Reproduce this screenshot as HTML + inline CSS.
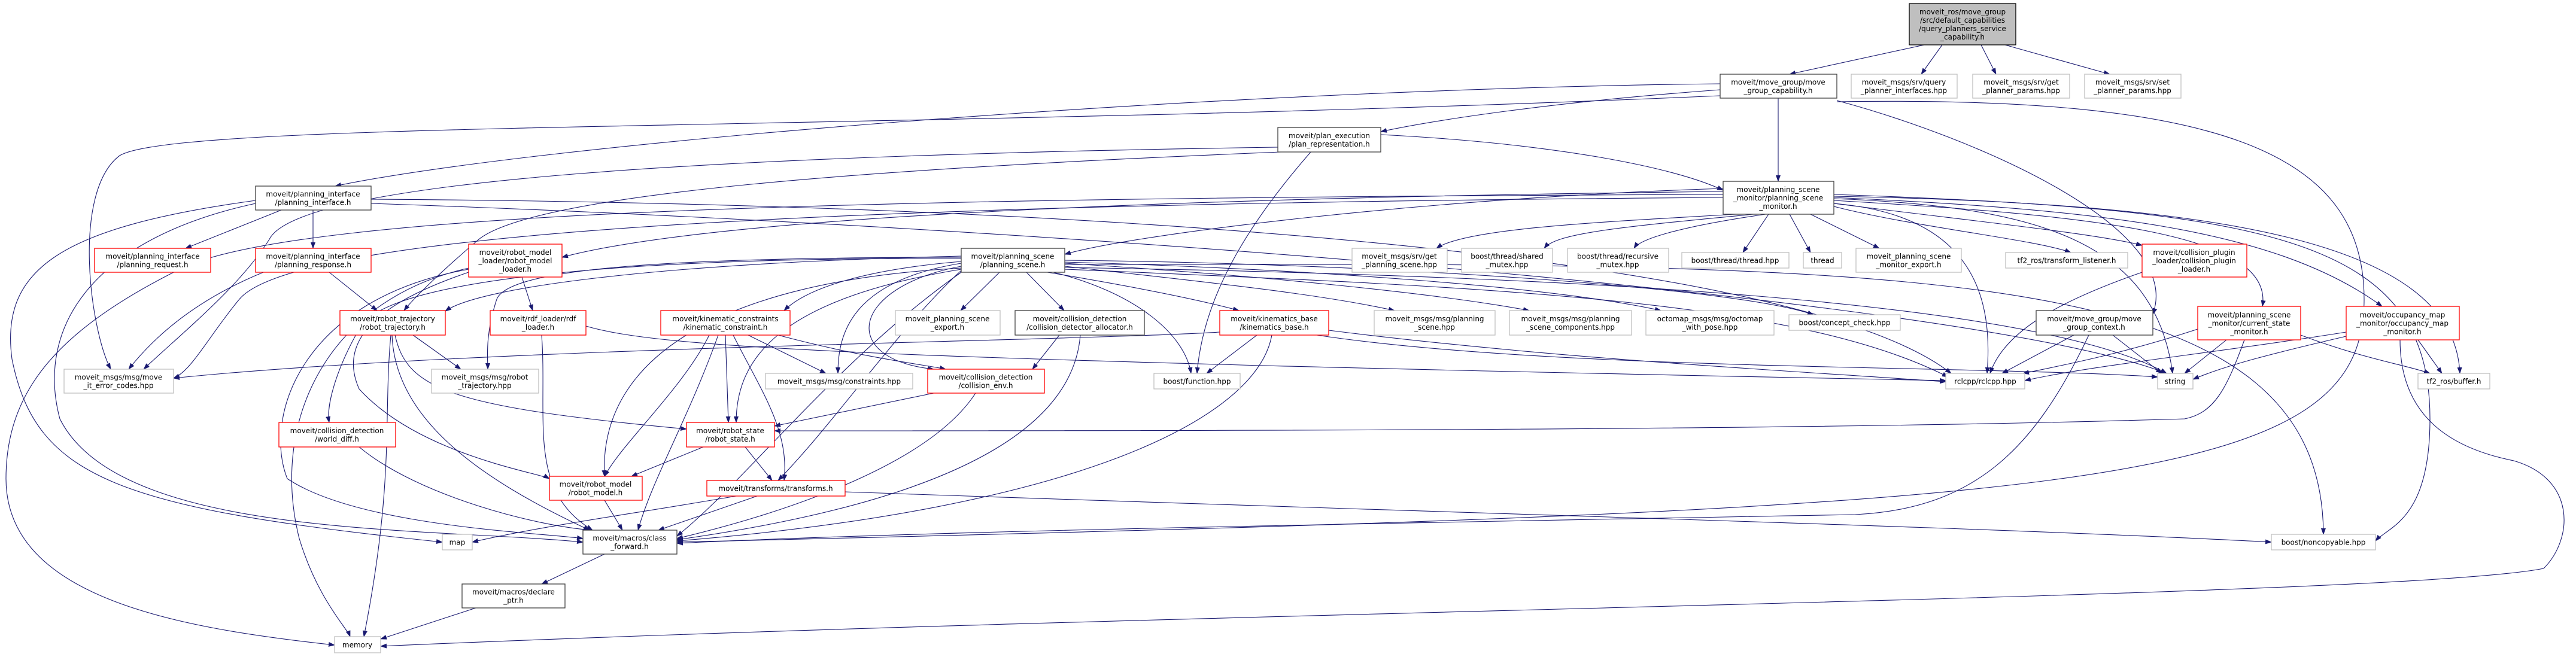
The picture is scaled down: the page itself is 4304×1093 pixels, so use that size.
<!DOCTYPE html>
<html><head><meta charset="utf-8"><style>
html,body{margin:0;padding:0;background:#fff;}
svg{display:block;}
text{font-family:"DejaVu Sans","Liberation Sans",sans-serif;font-size:12px;fill:#000;}
.e{fill:none;stroke:#191970;stroke-width:1.1;marker-end:url(#ah);}
.k{fill:#fff;stroke:#404040;stroke-width:1.3;}
.g{fill:#fff;stroke:#bfbfbf;stroke-width:1.3;}
.r{fill:#fff;stroke:#ff0000;stroke-width:1.3;}
</style></head><body>
<svg width="4304" height="1093" viewBox="0 0 4304 1093" xmlns="http://www.w3.org/2000/svg">
<defs><marker id="ah" markerWidth="11" markerHeight="8" refX="10" refY="4" orient="auto" markerUnits="userSpaceOnUse"><path d="M0,0 L11,4 L0,8 z" fill="#191970"/></marker></defs>
<g>
<path class="e" d="M3215 75 L2990 124"/>
<path class="e" d="M3245 75 L3210 124"/>
<path class="e" d="M3310 75 L3335 124"/>
<path class="e" d="M3350 75 L3525 124"/>
<path class="e" d="M2874 150 C2600 170,2400 200,2307 220"/>
<path class="e" d="M2874 140 C2000 150,900 240,560 311"/>
<path class="e" d="M2971 164 L2971 303"/>
<path class="e" d="M3069 168 C3300 230,3650 380,3597 525"/>
<path class="e" d="M3069 170 C3700 160,3950 250,3950 500 C3950 820,3500 850,1131 906"/>
<path class="e" d="M2874 160 C1500 220,300 200,200 260 C120 320,150 550,185 617"/>
<path class="e" d="M2307 225 C2600 240,2800 280,2879 318"/>
<path class="e" d="M2140 254 C1500 280,900 320,800 400 C730 460,690 500,675 519"/>
<path class="e" d="M2190 254 C2080 380,2010 500,2000 624"/>
<path class="e" d="M2135 246 C1200 260,500 300,450 400 C400 480,300 560,240 617"/>
<path class="e" d="M470 351 L310 415"/>
<path class="e" d="M523 351 L523 415"/>
<path class="e" d="M427 335 C100 380,0 450,20 600 C60 800,200 850,739 906"/>
<path class="e" d="M427 340 C150 400,60 550,100 700 C200 900,700 880,974 906"/>
<path class="e" d="M620 333 C1800 340,3000 420,3260 624"/>
<path class="e" d="M620 340 C1800 380,3300 500,3620 624"/>
<path class="e" d="M2879 320 C2000 330,1200 360,939 430"/>
<path class="e" d="M2879 315 C2400 330,1900 390,1779 425"/>
<path class="e" d="M2900 358 C2700 370,2450 380,2400 415"/>
<path class="e" d="M2930 358 C2700 380,2600 390,2580 415"/>
<path class="e" d="M2950 358 C2800 380,2740 400,2730 415"/>
<path class="e" d="M2955 358 L2912 422"/>
<path class="e" d="M2990 358 L3025 422"/>
<path class="e" d="M3025 358 L3140 415"/>
<path class="e" d="M3064 345 C3200 380,3400 400,3460 422"/>
<path class="e" d="M3064 340 C3300 370,3500 390,3579 410"/>
<path class="e" d="M3064 335 C3500 360,3800 390,3780 512"/>
<path class="e" d="M3064 330 C3500 350,3800 380,3980 512"/>
<path class="e" d="M3064 340 C3300 360,3330 500,3320 624"/>
<path class="e" d="M3064 332 C3400 345,3600 400,3630 624"/>
<path class="e" d="M3064 328 C3700 340,4100 400,4110 624"/>
<path class="e" d="M3064 325 C3800 350,4060 400,4060 700 C4060 870,3990 880,3969 904"/>
<path class="e" d="M2879 325 C1500 330,500 350,300 450 C100 550,10 650,10 800 C10 1000,300 1050,559 1078"/>
<path class="e" d="M2879 330 C1500 340,500 380,400 500 C350 560,320 620,290 632"/>
<path class="e" d="M1670 455 L1605 519"/>
<path class="e" d="M1715 455 L1778 519"/>
<path class="e" d="M1750 455 C1900 480,2000 500,2070 519"/>
<path class="e" d="M1779 445 C2000 470,2200 490,2330 519"/>
<path class="e" d="M1779 440 C2100 460,2400 490,2555 519"/>
<path class="e" d="M1779 438 C2200 450,2600 480,2775 519"/>
<path class="e" d="M1779 435 C2300 440,2900 480,3030 526"/>
<path class="e" d="M1760 455 C1900 490,1980 560,1990 624"/>
<path class="e" d="M1606 445 C1420 480,1400 600,1560 617"/>
<path class="e" d="M1606 440 C1420 470,1400 560,1400 624"/>
<path class="e" d="M1606 450 C1300 500,1230 600,1230 706"/>
<path class="e" d="M1606 448 C1200 470,1000 600,1010 796"/>
<path class="e" d="M1606 452 C1500 550,1400 700,1300 803"/>
<path class="e" d="M1606 455 C1400 600,1250 800,1131 896"/>
<path class="e" d="M1606 437 C1450 450,1350 480,1310 519"/>
<path class="e" d="M1606 432 C1200 430,650 450,600 550 C560 620,545 680,550 706"/>
<path class="e" d="M1606 430 C1100 430,850 450,830 500 C810 560,815 600,815 617"/>
<path class="e" d="M1779 450 C2500 480,3000 500,3255 630"/>
<path class="e" d="M1779 447 C2600 460,3400 500,3620 624"/>
<path class="e" d="M1779 442 C3200 440,3880 430,3882 893"/>
<path class="e" d="M1606 428 C1100 440,800 480,744 520"/>
<path class="e" d="M872 463 L890 519"/>
<path class="e" d="M783 455 C650 500,560 560,600 650 C700 760,900 790,918 800"/>
<path class="e" d="M783 450 C500 500,440 700,480 800 C600 880,900 890,974 900"/>
<path class="e" d="M783 448 C550 500,450 700,500 900 C530 1000,580 1050,585 1064"/>
<path class="e" d="M690 560 L770 617"/>
<path class="e" d="M660 560 C680 650,750 680,1147 717"/>
<path class="e" d="M655 560 C660 700,800 800,985 886"/>
<path class="e" d="M653 560 C640 700,660 800,608 1064"/>
<path class="e" d="M550 455 L630 519"/>
<path class="e" d="M440 455 C330 500,260 560,215 617"/>
<path class="e" d="M905 560 C915 700,880 820,990 886"/>
<path class="e" d="M979 545 C1100 580,1400 600,3251 636"/>
<path class="e" d="M1250 560 L1380 624"/>
<path class="e" d="M1212 560 L1217 706"/>
<path class="e" d="M1185 560 C1140 650,1040 740,1010 796"/>
<path class="e" d="M1225 560 C1270 650,1320 720,1310 803"/>
<path class="e" d="M1200 560 C1150 700,1090 800,1066 886"/>
<path class="e" d="M1300 560 C1450 600,1550 610,1580 617"/>
<path class="e" d="M1770 560 L1725 617"/>
<path class="e" d="M1805 560 C1790 750,1500 850,1131 902"/>
<path class="e" d="M2100 560 L2016 624"/>
<path class="e" d="M2125 560 C2100 700,1800 850,1131 904"/>
<path class="e" d="M2220 552 C2600 600,3000 620,3251 638"/>
<path class="e" d="M2200 560 C2600 620,3300 610,3605 630"/>
<path class="e" d="M2038 555 C1800 570,800 580,290 632"/>
<path class="e" d="M3465 560 L3345 624"/>
<path class="e" d="M3530 560 L3612 624"/>
<path class="e" d="M3490 560 C3400 750,3300 850,3100 860 C2000 880,1500 890,1131 908"/>
<path class="e" d="M3672 550 C3550 590,3450 610,3380 624"/>
<path class="e" d="M3720 568 L3650 624"/>
<path class="e" d="M3844 560 C3950 600,4020 610,4060 624"/>
<path class="e" d="M3750 568 C3720 650,3700 690,3650 700 C3000 720,2000 720,1294 720"/>
<path class="e" d="M3920 555 C3700 590,3500 610,3383 636"/>
<path class="e" d="M3920 562 C3800 590,3720 610,3664 634"/>
<path class="e" d="M4040 568 L4080 624"/>
<path class="e" d="M4010 568 C4010 700,4100 750,4200 770 C4304 800,4300 900,4250 950 C4000 1000,2000 1020,636 1080"/>
<path class="e" d="M3579 455 C3450 500,3350 550,3325 624"/>
<path class="e" d="M1560 657 C1450 680,1350 700,1294 712"/>
<path class="e" d="M1630 657 C1550 780,1300 860,1131 900"/>
<path class="e" d="M600 747 C700 830,900 880,990 886"/>
<path class="e" d="M1175 747 L1055 796"/>
<path class="e" d="M1245 747 L1290 803"/>
<path class="e" d="M1010 836 L1040 886"/>
<path class="e" d="M1230 829 C1050 860,900 880,789 906"/>
<path class="e" d="M1265 829 L1100 886"/>
<path class="e" d="M1412 822 C2500 860,3300 880,3795 906"/>
<path class="e" d="M1010 926 L905 976"/>
<path class="e" d="M795 1016 L636 1068"/>
</g>
<g text-anchor="middle">
<rect x="3190" y="6" width="178" height="69" fill="#bfbfbf" stroke="#000" stroke-width="1.3"/>
<text x="3279" y="24"><tspan x="3279">moveit_ros/move_group</tspan><tspan x="3279" dy="14">/src/default_capabilities</tspan><tspan x="3279" dy="14">/query_planners_service</tspan><tspan x="3279" dy="14">_capability.h</tspan></text>

<rect class="k" x="2874" y="124" width="195" height="40"/><text y="141.5"><tspan x="2971">moveit/move_group/move</tspan><tspan x="2971" dy="14">_group_capability.h</tspan></text>
<rect class="g" x="3093" y="124" width="177" height="40"/><text y="141.5"><tspan x="3181">moveit_msgs/srv/query</tspan><tspan x="3181" dy="14">_planner_interfaces.hpp</tspan></text>
<rect class="g" x="3296" y="124" width="162" height="40"/><text y="141.5"><tspan x="3377">moveit_msgs/srv/get</tspan><tspan x="3377" dy="14">_planner_params.hpp</tspan></text>
<rect class="g" x="3483" y="124" width="161" height="40"/><text y="141.5"><tspan x="3563">moveit_msgs/srv/set</tspan><tspan x="3563" dy="14">_planner_params.hpp</tspan></text>

<rect class="k" x="2135" y="213" width="172" height="41"/><text y="231"><tspan x="2221">moveit/plan_execution</tspan><tspan x="2221" dy="14">/plan_representation.h</tspan></text>
<rect class="k" x="427" y="311" width="193" height="40"/><text y="328.5"><tspan x="523">moveit/planning_interface</tspan><tspan x="523" dy="14">/planning_interface.h</tspan></text>
<rect class="k" x="2879" y="303" width="185" height="55"/><text y="321"><tspan x="2971">moveit/planning_scene</tspan><tspan x="2971" dy="14">_monitor/planning_scene</tspan><tspan x="2971" dy="14">_monitor.h</tspan></text>

<rect class="r" x="158" y="415" width="194" height="40"/><text y="432.5"><tspan x="255">moveit/planning_interface</tspan><tspan x="255" dy="14">/planning_request.h</tspan></text>
<rect class="r" x="427" y="415" width="193" height="40"/><text y="432.5"><tspan x="523">moveit/planning_interface</tspan><tspan x="523" dy="14">/planning_response.h</tspan></text>
<rect class="r" x="783" y="408" width="156" height="55"/><text y="426"><tspan x="861">moveit/robot_model</tspan><tspan x="861" dy="14">_loader/robot_model</tspan><tspan x="861" dy="14">_loader.h</tspan></text>
<rect class="k" x="1606" y="415" width="173" height="40"/><text y="432.5"><tspan x="1692">moveit/planning_scene</tspan><tspan x="1692" dy="14">/planning_scene.h</tspan></text>
<rect class="g" x="2259" y="415" width="159" height="40"/><text y="432.5"><tspan x="2338">moveit_msgs/srv/get</tspan><tspan x="2338" dy="14">_planning_scene.hpp</tspan></text>
<rect class="g" x="2442" y="415" width="152" height="40"/><text y="432.5"><tspan x="2518">boost/thread/shared</tspan><tspan x="2518" dy="14">_mutex.hpp</tspan></text>
<rect class="g" x="2619" y="415" width="169" height="40"/><text y="432.5"><tspan x="2703">boost/thread/recursive</tspan><tspan x="2703" dy="14">_mutex.hpp</tspan></text>
<rect class="g" x="2810" y="422" width="179" height="26"/><text x="2899" y="439.5">boost/thread/thread.hpp</text>
<rect class="g" x="3013" y="422" width="64" height="26"/><text x="3045" y="439.5">thread</text>
<rect class="g" x="3101" y="415" width="176" height="40"/><text y="432.5"><tspan x="3189">moveit_planning_scene</tspan><tspan x="3189" dy="14">_monitor_export.h</tspan></text>
<rect class="g" x="3351" y="422" width="204" height="26"/><text x="3453" y="439.5">tf2_ros/transform_listener.h</text>
<rect class="r" x="3579" y="408" width="175" height="55"/><text y="426"><tspan x="3666">moveit/collision_plugin</tspan><tspan x="3666" dy="14">_loader/collision_plugin</tspan><tspan x="3666" dy="14">_loader.h</tspan></text>

<rect class="r" x="568" y="519" width="176" height="41"/><text y="537"><tspan x="656">moveit/robot_trajectory</tspan><tspan x="656" dy="14">/robot_trajectory.h</tspan></text>
<rect class="r" x="819" y="519" width="160" height="41"/><text y="537"><tspan x="899">moveit/rdf_loader/rdf</tspan><tspan x="899" dy="14">_loader.h</tspan></text>
<rect class="r" x="1104" y="519" width="216" height="41"/><text y="537"><tspan x="1212">moveit/kinematic_constraints</tspan><tspan x="1212" dy="14">/kinematic_constraint.h</tspan></text>
<rect class="g" x="1496" y="519" width="175" height="41"/><text y="537"><tspan x="1583">moveit_planning_scene</tspan><tspan x="1583" dy="14">_export.h</tspan></text>
<rect class="k" x="1696" y="519" width="216" height="41"/><text y="537"><tspan x="1804">moveit/collision_detection</tspan><tspan x="1804" dy="14">/collision_detector_allocator.h</tspan></text>
<rect class="r" x="2038" y="519" width="182" height="41"/><text y="537"><tspan x="2129">moveit/kinematics_base</tspan><tspan x="2129" dy="14">/kinematics_base.h</tspan></text>
<rect class="g" x="2296" y="519" width="202" height="41"/><text y="537"><tspan x="2397">moveit_msgs/msg/planning</tspan><tspan x="2397" dy="14">_scene.hpp</tspan></text>
<rect class="g" x="2522" y="519" width="204" height="41"/><text y="537"><tspan x="2624">moveit_msgs/msg/planning</tspan><tspan x="2624" dy="14">_scene_components.hpp</tspan></text>
<rect class="g" x="2750" y="519" width="214" height="41"/><text y="537"><tspan x="2857">octomap_msgs/msg/octomap</tspan><tspan x="2857" dy="14">_with_pose.hpp</tspan></text>
<rect class="g" x="2989" y="526" width="186" height="26"/><text x="3082" y="543.5">boost/concept_check.hpp</text>
<rect class="k" x="3402" y="519" width="195" height="41"/><text y="537"><tspan x="3499">moveit/move_group/move</tspan><tspan x="3499" dy="14">_group_context.h</tspan></text>
<rect class="r" x="3672" y="512" width="172" height="56"/><text y="530.5"><tspan x="3758">moveit/planning_scene</tspan><tspan x="3758" dy="14">_monitor/current_state</tspan><tspan x="3758" dy="14">_monitor.h</tspan></text>
<rect class="r" x="3920" y="512" width="189" height="56"/><text y="530.5"><tspan x="4014">moveit/occupancy_map</tspan><tspan x="4014" dy="14">_monitor/occupancy_map</tspan><tspan x="4014" dy="14">_monitor.h</tspan></text>

<rect class="g" x="107" y="617" width="183" height="40"/><text y="634.5"><tspan x="198">moveit_msgs/msg/move</tspan><tspan x="198" dy="14">_it_error_codes.hpp</tspan></text>
<rect class="g" x="721" y="617" width="179" height="40"/><text y="634.5"><tspan x="810">moveit_msgs/msg/robot</tspan><tspan x="810" dy="14">_trajectory.hpp</tspan></text>
<rect class="g" x="1279" y="624" width="246" height="26"/><text x="1402" y="641.5">moveit_msgs/msg/constraints.hpp</text>
<rect class="r" x="1550" y="617" width="195" height="40"/><text y="634.5"><tspan x="1647">moveit/collision_detection</tspan><tspan x="1647" dy="14">/collision_env.h</tspan></text>
<rect class="g" x="1928" y="624" width="144" height="26"/><text x="2000" y="641.5">boost/function.hpp</text>
<rect class="g" x="3251" y="624" width="132" height="26"/><text x="3317" y="641.5">rclcpp/rclcpp.hpp</text>
<rect class="g" x="3605" y="624" width="59" height="26"/><text x="3634" y="641.5">string</text>
<rect class="g" x="4040" y="624" width="120" height="26"/><text x="4100" y="641.5">tf2_ros/buffer.h</text>

<rect class="r" x="466" y="706" width="195" height="41"/><text y="724"><tspan x="563">moveit/collision_detection</tspan><tspan x="563" dy="14">/world_diff.h</tspan></text>
<rect class="r" x="1147" y="706" width="147" height="41"/><text y="724"><tspan x="1220">moveit/robot_state</tspan><tspan x="1220" dy="14">/robot_state.h</tspan></text>
<rect class="r" x="918" y="796" width="155" height="40"/><text y="813.5"><tspan x="995">moveit/robot_model</tspan><tspan x="995" dy="14">/robot_model.h</tspan></text>
<rect class="r" x="1181" y="803" width="231" height="26"/><text x="1296" y="820.5">moveit/transforms/transforms.h</text>
<rect class="g" x="739" y="893" width="50" height="26"/><text x="764" y="910.5">map</text>
<rect class="k" x="974" y="886" width="157" height="40"/><text y="903.5"><tspan x="1052">moveit/macros/class</tspan><tspan x="1052" dy="14">_forward.h</tspan></text>
<rect class="g" x="3795" y="893" width="174" height="26"/><text x="3882" y="910.5">boost/noncopyable.hpp</text>
<rect class="k" x="772" y="976" width="172" height="40"/><text y="993.5"><tspan x="858">moveit/macros/declare</tspan><tspan x="858" dy="14">_ptr.h</tspan></text>
<rect class="g" x="559" y="1064" width="77" height="27"/><text x="597" y="1082">memory</text>
</g>
</svg>
</body></html>
